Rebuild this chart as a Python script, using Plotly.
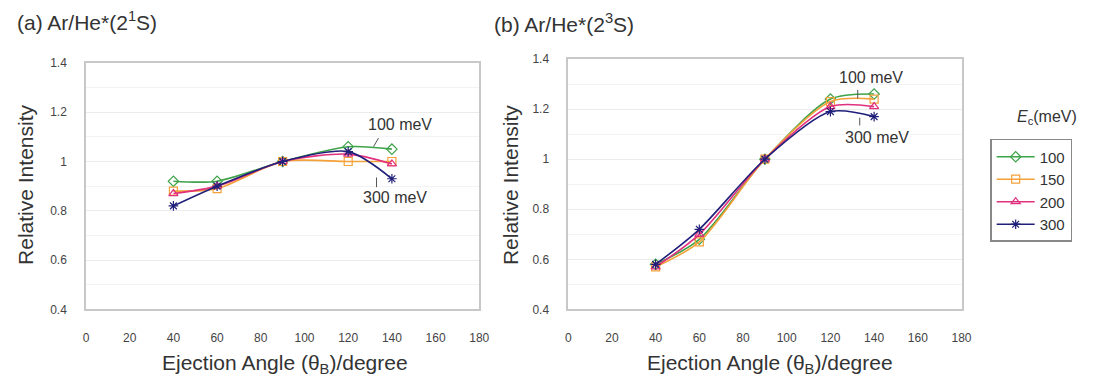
import plotly.graph_objects as go

W, H = 1097, 380

angles = [40, 60, 90, 120, 140]
energies = ["100", "150", "200", "300"]

# Panel (a) Ar/He*(2^1S)
a_100 = [0.92, 0.92, 1.00, 1.06, 1.05]
a_150 = [0.88, 0.89, 1.00, 1.00, 1.00]
a_200 = [0.87, 0.90, 1.00, 1.03, 0.99]
a_300 = [0.82, 0.90, 1.00, 1.04, 0.93]

# Panel (b) Ar/He*(2^3S)
b_100 = [0.58, 0.68, 1.00, 1.24, 1.26]
b_150 = [0.57, 0.67, 1.00, 1.23, 1.24]
b_200 = [0.57, 0.70, 1.00, 1.21, 1.21]
b_300 = [0.58, 0.72, 1.00, 1.19, 1.17]

colors = ["#3fa34a", "#f4a13a", "#e0307e", "#20207a"]
symbols = ["diamond-open", "square-open", "triangle-up-open", "asterisk-open"]

FONT = "Arial, Liberation Sans, sans-serif"

def px(x):
    return x / W

def py(y):
    return 1 - y / H

fig = go.Figure()

for i, (e, ya, yb) in enumerate(zip(energies, [a_100, a_150, a_200, a_300], [b_100, b_150, b_200, b_300])):
    for ax, yy, show in (("", ya, False), ("2", yb, True)):
        fig.add_trace(go.Scatter(
            x=angles, y=yy, name=e, legendgroup=e, showlegend=show,
            xaxis="x" + ax, yaxis="y" + ax,
            mode="lines+markers",
            line=dict(color=colors[i], width=1.6, shape="spline", smoothing=0.8),
            marker=dict(symbol=symbols[i], size=8, color=colors[i], line=dict(width=1.2, color=colors[i])),
        ))

axis_common = dict(
    range=[0, 180], dtick=20, showline=True, mirror=True, linecolor="#c8c8c8", linewidth=1.5,
    showgrid=False, zeroline=False, ticks="", tickfont=dict(size=12, color="#444", family=FONT),
    ticklabelstandoff=16,
)
yaxis_common = dict(
    range=[0.4, 1.4], dtick=0.2, showline=True, mirror=True, linecolor="#c8c8c8", linewidth=1.5,
    showgrid=True, gridcolor="#ebebeb", gridwidth=1, zeroline=False, ticks="",
    minor=dict(dtick=0.1, showgrid=True, gridcolor="#f3f3f3"),
    tickfont=dict(size=12, color="#444", family=FONT), ticklabelstandoff=15,
    tickformat="~g",
)

fig.update_layout(
    width=W, height=H, margin=dict(l=0, r=0, t=0, b=0),
    paper_bgcolor="white", plot_bgcolor="white",
    font=dict(family=FONT, color="#333"),
    xaxis=dict(domain=[px(84), px(482)], anchor="y", **axis_common),
    yaxis=dict(domain=[py(314), py(58)], anchor="x", **yaxis_common),
    xaxis2=dict(domain=[px(572), px(970)], anchor="y2", **axis_common),
    yaxis2=dict(domain=[py(314), py(54)], anchor="x2", **yaxis_common),
    legend=dict(
        x=px(999), y=py(137), xanchor="left", yanchor="top",
        bordercolor="#888", borderwidth=1.5, bgcolor="white",
        font=dict(size=15, color="#333", family=FONT),
        tracegroupgap=0, itemwidth=38,
    ),
    showlegend=True,
)

ann = []
def text(x, y, t, size, **kw):
    ann.append(dict(x=px(x), y=py(y), xref="paper", yref="paper", text=t, showarrow=False,
                    xanchor=kw.pop("xanchor", "center"), yanchor="middle",
                    font=dict(size=size, color="#333", family=FONT), **kw))

text(12, 15, "(a) Ar/He*(2<sup>1</sup>S)", 21, xanchor="left")
text(495, 17, "(b) Ar/He*(2<sup>3</sup>S)", 21, xanchor="left")
text(285, 371, "Ejection Angle (θ<sub>B</sub>)/degree", 21)
text(776, 371, "Ejection Angle (θ<sub>B</sub>)/degree", 21)
text(22, 185, "Relative Intensity", 21, textangle=-90)
text(513, 185, "Relative Intensity", 21, textangle=-90)
text(1057, 115, "<i>E</i><sub>c</sub>(meV)", 16)
text(402, 122, "100 meV", 16)
text(397, 198, "300 meV", 16)
text(878, 73, "100 meV", 16)
text(884, 136, "300 meV", 16)
fig.update_layout(annotations=ann)

# leader lines for the labels
for (x0, y0, x1, y1) in [(375, 145, 380, 136), (378, 177, 378, 187), (865, 86, 865, 95), (867, 115, 867, 123)]:
    fig.add_shape(type="line", xref="paper", yref="paper", x0=px(x0), y0=py(y0), x1=px(x1), y1=py(y1),
                  line=dict(color="#555", width=1))

fig.write_html("out.html", config={"displayModeBar": False},
               post_script="document.body.style.margin='0px';")
